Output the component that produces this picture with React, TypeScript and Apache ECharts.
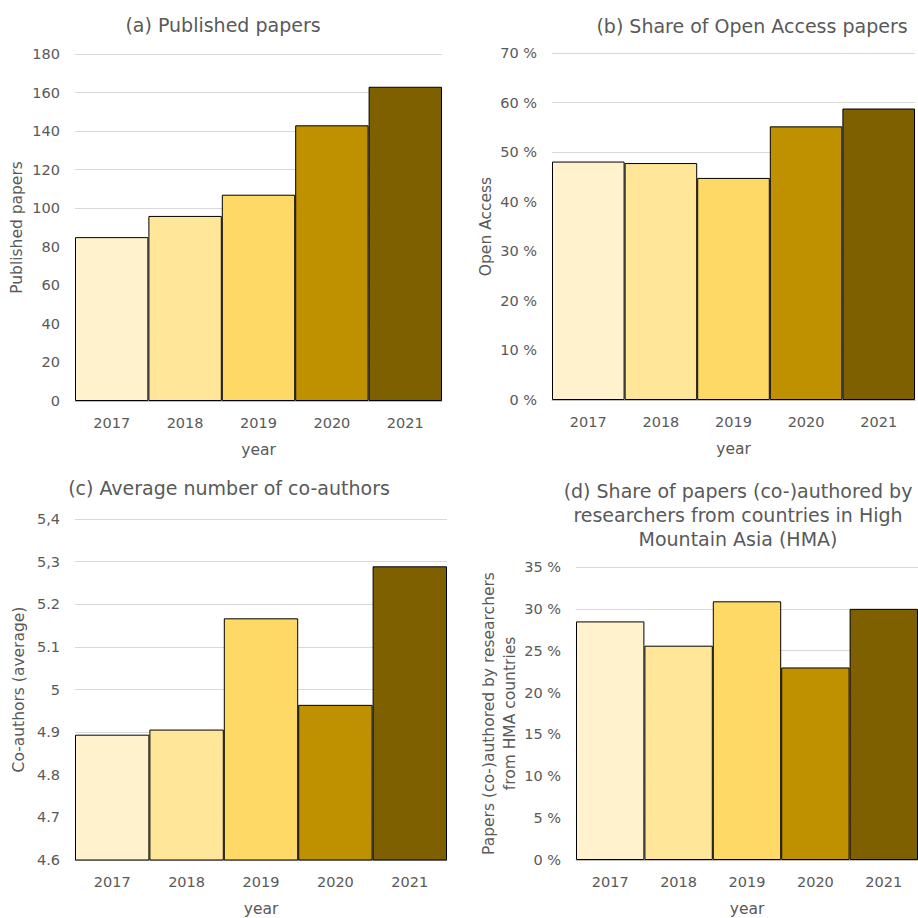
import React, { useEffect, useRef } from "react";
import * as echarts from "echarts";

const years = ["2017", "2018", "2019", "2020", "2021"];
const publishedPapers = [85, 96, 107, 143, 163];
const openAccessShare = [48.1, 47.8, 44.8, 55.2, 58.8];
const avgCoauthors = [4.894, 4.906, 5.167, 4.964, 5.289];
const hmaShare = [28.5, 25.6, 30.9, 23.0, 30.0];
const coauthorTickLabels = ["4.6", "4.7", "4.8", "4.9", "5", "5.1", "5.2", "5,3", "5,4"];

const barColors = ["#FFF2CC", "#FFE699", "#FFD966", "#BF9000", "#7F6000"];
const FONT = "DejaVu Sans";
const TXT = "#595959";
const TICK = 14.5;

export default function App() {
  const ref = useRef<HTMLDivElement>(null);
  useEffect(() => {
    if (!ref.current) return;
    const chart = echarts.init(ref.current, null, { renderer: "svg" });
    const grids = [
      { left: 75, top: 54, width: 367, height: 347 },
      { left: 552, top: 53, width: 363, height: 347 },
      { left: 75, top: 519, width: 372, height: 347 },
      { left: 576, top: 567, width: 342, height: 298 },
    ];
    const xAxes = grids.map((_, i) => ({
      type: "category",
      gridIndex: i,
      data: years,
      name: "year",
      nameLocation: "middle",
      nameGap: 41,
      nameTextStyle: { color: TXT, fontFamily: FONT, fontSize: 15.5 },
      axisTick: { show: false },
      axisLine: { show: true, lineStyle: { color: "#bfbfbf" } },
      axisLabel: { color: TXT, fontFamily: FONT, fontSize: TICK, margin: 14 },
    }));
    const baseY = (i: number, extra: any) => ({
      type: "value",
      gridIndex: i,
      nameLocation: "middle",
      nameRotate: 90,
      nameTextStyle: { color: TXT, fontFamily: FONT, fontSize: 15.5, lineHeight: 21 },
      axisLine: { show: false },
      axisTick: { show: false },
      splitLine: { show: true, lineStyle: { color: "#d9d9d9", width: 1 } },
      axisLabel: { color: TXT, fontFamily: FONT, fontSize: TICK, margin: 15 },
      ...extra,
    });
    const yAxes = [
      baseY(0, { min: 0, max: 180, interval: 20, name: "Published papers", nameGap: 48 }),
      baseY(1, {
        min: 0, max: 70, interval: 10, name: "Open Access", nameGap: 55,
        axisLabel: { color: TXT, fontFamily: FONT, fontSize: TICK, margin: 15, formatter: (v: number) => `${v} %` },
      }),
      baseY(2, {
        min: 4.6, max: 5.4, interval: 0.1, name: "Co-authors (average)", nameGap: 46,
        axisLabel: {
          color: TXT, fontFamily: FONT, fontSize: TICK, margin: 15,
          formatter: (v: number) => coauthorTickLabels[Math.round((v - 4.6) * 10)] ?? "",
        },
      }),
      baseY(3, {
        min: 0, max: 35, interval: 5, name: "Papers (co-)authored by researchers\nfrom HMA countries", nameGap: 56,
        axisLabel: { color: TXT, fontFamily: FONT, fontSize: TICK, margin: 15, formatter: (v: number) => `${v} %` },
      }),
    ];
    const datasets = [publishedPapers, openAccessShare, avgCoauthors, hmaShare];
    const series = datasets.map((d, i) => ({
      type: "bar",
      xAxisIndex: i,
      yAxisIndex: i,
      barCategoryGap: "0%",
      clip: true,
      data: d.map((v, j) => ({
        value: v,
        itemStyle: { color: barColors[j], borderColor: "#000", borderWidth: 1 },
      })),
    }));
    const titleStyle = { fill: TXT, font: `19px "${FONT}"`, align: "center", verticalAlign: "middle" };
    chart.setOption({
      animation: false,
      grid: grids,
      xAxis: xAxes,
      yAxis: yAxes,
      series,
      graphic: [
        { type: "text", x: 223, y: 25, style: { ...titleStyle, text: "(a) Published papers" } },
        { type: "text", x: 752, y: 26, style: { ...titleStyle, text: "(b) Share of Open Access papers" } },
        { type: "text", x: 229, y: 488, style: { ...titleStyle, text: "(c) Average number of co-authors" } },
        {
          type: "text", x: 738, y: 515,
          style: {
            ...titleStyle, lineHeight: 24.3,
            text: "(d) Share of papers (co-)authored by\nresearchers from countries in High\nMountain Asia (HMA)",
          },
        },
      ],
    });
    return () => chart.dispose();
  }, []);
  return (
    <div
      ref={ref}
      style={{ position: "fixed", left: 0, top: 0, width: 918, height: 918, background: "#fff" }}
    />
  );
}
